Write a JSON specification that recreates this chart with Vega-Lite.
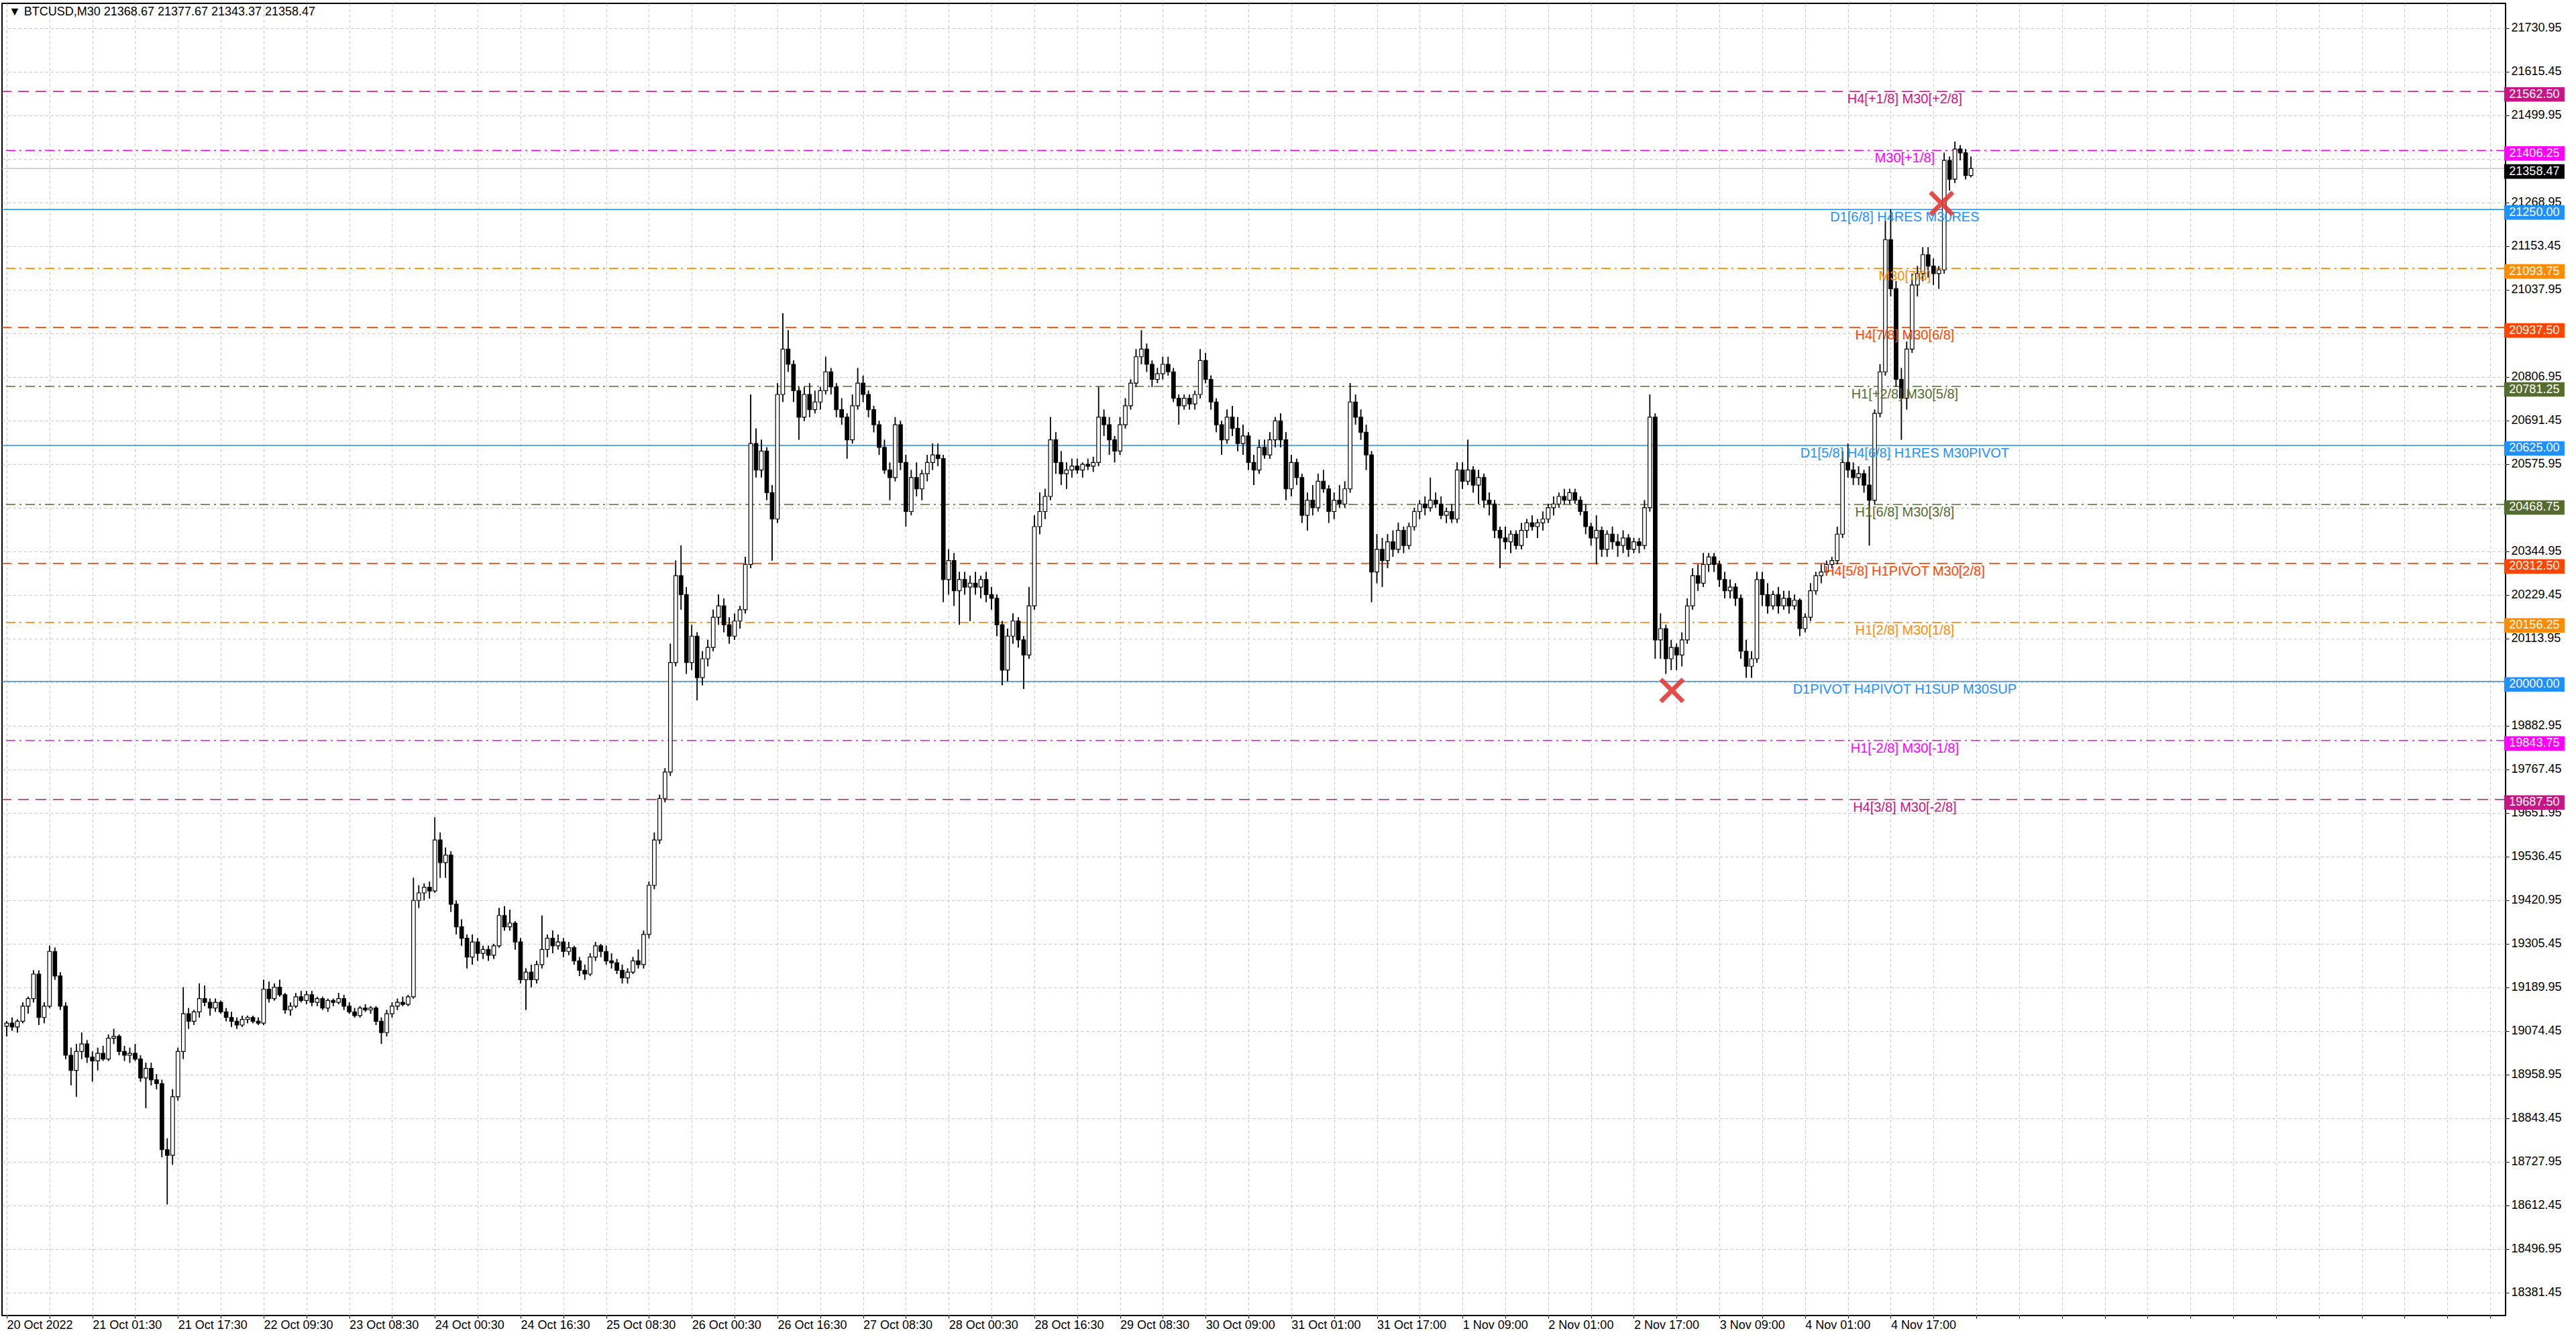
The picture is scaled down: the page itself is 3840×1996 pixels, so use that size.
{
"$schema": "https://vega.github.io/schema/vega-lite/v6.json",
"width": 3732, "height": 1956,
"autosize": "none",
"padding": {"left": 3, "top": 5, "right": 105, "bottom": 35},
"background": "white",
"config": {"view": {"stroke": "black", "strokeWidth": 2}, "font": "Liberation Sans"},
"datasets": {
"levels": [
{"v":21562.5,"k":"±2/8","t":"H4[+1/8] M30[+2/8]"},
{"v":21406.25,"k":"±1/8","t":"M30[+1/8]"},
{"v":21250,"k":"pivot","t":"D1[6/8] H4RES M30RES"},
{"v":21093.75,"k":"1/8","t":"M30[7/8]"},
{"v":20937.5,"k":"2/8","t":"H4[7/8] M30[6/8]"},
{"v":20781.25,"k":"3/8","t":"H1[+2/8] M30[5/8]"},
{"v":20625,"k":"pivot","t":"D1[5/8] H4[6/8] H1RES M30PIVOT"},
{"v":20468.75,"k":"3/8","t":"H1[6/8] M30[3/8]"},
{"v":20312.5,"k":"2/8","t":"H4[5/8] H1PIVOT M30[2/8]"},
{"v":20156.25,"k":"1/8","t":"H1[2/8] M30[1/8]"},
{"v":20000,"k":"pivot","t":"D1PIVOT H4PIVOT H1SUP M30SUP"},
{"v":19843.75,"k":"±1/8","t":"H1[-2/8] M30[-1/8]"},
{"v":19687.5,"k":"±2/8","t":"H4[3/8] M30[-2/8]"}
],
"price": [{"v":21358.47}],
"marks": [{"i":622.25,"v":19976},{"i":723,"v":21266}],
"header": [{"t":"▼  BTCUSD,M30  21368.67 21377.67 21343.37 21358.47"}],
"candles": [
{"i":0,"o":19087,"h":19100,"l":19060,"c":19095},
{"i":2,"o":19095,"h":19110,"l":19075,"c":19085},
{"i":4,"o":19085,"h":19105,"l":19070,"c":19100},
{"i":6,"o":19100,"h":19150,"l":19095,"c":19140},
{"i":8,"o":19140,"h":19165,"l":19120,"c":19160},
{"i":10,"o":19160,"h":19235,"l":19150,"c":19225},
{"i":12,"o":19225,"h":19235,"l":19090,"c":19110},
{"i":14,"o":19110,"h":19150,"l":19095,"c":19140},
{"i":16,"o":19140,"h":19300,"l":19135,"c":19285},
{"i":18,"o":19285,"h":19295,"l":19210,"c":19220},
{"i":20,"o":19220,"h":19230,"l":19130,"c":19140},
{"i":22,"o":19140,"h":19150,"l":19000,"c":19010},
{"i":24,"o":19010,"h":19030,"l":18930,"c":18970},
{"i":26,"o":18970,"h":19040,"l":18900,"c":19020},
{"i":28,"o":19020,"h":19070,"l":19000,"c":19040},
{"i":30,"o":19040,"h":19050,"l":18990,"c":19005},
{"i":32,"o":19005,"h":19020,"l":18940,"c":18995},
{"i":34,"o":18995,"h":19030,"l":18970,"c":19015},
{"i":36,"o":19015,"h":19035,"l":18995,"c":19000},
{"i":38,"o":19000,"h":19065,"l":18995,"c":19055},
{"i":40,"o":19055,"h":19080,"l":19040,"c":19060},
{"i":42,"o":19060,"h":19065,"l":19010,"c":19020},
{"i":44,"o":19020,"h":19035,"l":18995,"c":19010},
{"i":46,"o":19010,"h":19030,"l":18990,"c":19015},
{"i":48,"o":19015,"h":19040,"l":18995,"c":19000},
{"i":50,"o":19000,"h":19010,"l":18940,"c":18950},
{"i":52,"o":18950,"h":18990,"l":18870,"c":18975},
{"i":54,"o":18975,"h":18990,"l":18930,"c":18945},
{"i":56,"o":18945,"h":18960,"l":18920,"c":18935},
{"i":58,"o":18935,"h":18945,"l":18740,"c":18760},
{"i":60,"o":18760,"h":18790,"l":18615,"c":18745},
{"i":62,"o":18745,"h":18920,"l":18720,"c":18900},
{"i":64,"o":18900,"h":19030,"l":18890,"c":19020},
{"i":66,"o":19020,"h":19190,"l":19000,"c":19120},
{"i":68,"o":19120,"h":19135,"l":19080,"c":19100},
{"i":70,"o":19100,"h":19130,"l":19090,"c":19125},
{"i":72,"o":19125,"h":19200,"l":19110,"c":19160},
{"i":74,"o":19160,"h":19195,"l":19140,"c":19150},
{"i":76,"o":19150,"h":19160,"l":19115,"c":19135},
{"i":78,"o":19135,"h":19160,"l":19125,"c":19150},
{"i":80,"o":19150,"h":19155,"l":19120,"c":19125},
{"i":82,"o":19125,"h":19135,"l":19100,"c":19110},
{"i":84,"o":19110,"h":19125,"l":19085,"c":19100},
{"i":86,"o":19100,"h":19110,"l":19080,"c":19090},
{"i":88,"o":19090,"h":19115,"l":19085,"c":19105},
{"i":90,"o":19105,"h":19115,"l":19095,"c":19110},
{"i":92,"o":19110,"h":19115,"l":19095,"c":19100},
{"i":94,"o":19100,"h":19110,"l":19090,"c":19095},
{"i":96,"o":19095,"h":19210,"l":19090,"c":19185},
{"i":98,"o":19185,"h":19205,"l":19150,"c":19160},
{"i":100,"o":19160,"h":19200,"l":19155,"c":19190},
{"i":102,"o":19190,"h":19210,"l":19165,"c":19170},
{"i":104,"o":19170,"h":19175,"l":19120,"c":19130},
{"i":106,"o":19130,"h":19150,"l":19115,"c":19140},
{"i":108,"o":19140,"h":19175,"l":19135,"c":19165},
{"i":110,"o":19165,"h":19180,"l":19150,"c":19155},
{"i":112,"o":19155,"h":19180,"l":19145,"c":19170},
{"i":114,"o":19170,"h":19180,"l":19140,"c":19150},
{"i":116,"o":19150,"h":19165,"l":19140,"c":19160},
{"i":118,"o":19160,"h":19165,"l":19130,"c":19135},
{"i":120,"o":19135,"h":19160,"l":19125,"c":19155},
{"i":122,"o":19155,"h":19160,"l":19140,"c":19150},
{"i":124,"o":19150,"h":19175,"l":19145,"c":19160},
{"i":126,"o":19160,"h":19170,"l":19130,"c":19140},
{"i":128,"o":19140,"h":19150,"l":19120,"c":19125},
{"i":130,"o":19125,"h":19135,"l":19110,"c":19115},
{"i":132,"o":19115,"h":19140,"l":19110,"c":19135},
{"i":134,"o":19135,"h":19145,"l":19125,"c":19130},
{"i":136,"o":19130,"h":19140,"l":19120,"c":19135},
{"i":138,"o":19135,"h":19140,"l":19090,"c":19100},
{"i":140,"o":19100,"h":19110,"l":19040,"c":19070},
{"i":142,"o":19070,"h":19130,"l":19060,"c":19120},
{"i":144,"o":19120,"h":19150,"l":19110,"c":19140},
{"i":146,"o":19140,"h":19160,"l":19130,"c":19150},
{"i":148,"o":19150,"h":19165,"l":19140,"c":19145},
{"i":150,"o":19145,"h":19170,"l":19140,"c":19165},
{"i":152,"o":19165,"h":19480,"l":19160,"c":19420},
{"i":154,"o":19420,"h":19460,"l":19400,"c":19440},
{"i":156,"o":19440,"h":19465,"l":19420,"c":19455},
{"i":158,"o":19455,"h":19470,"l":19425,"c":19445},
{"i":160,"o":19445,"h":19640,"l":19440,"c":19580},
{"i":162,"o":19580,"h":19600,"l":19480,"c":19520},
{"i":164,"o":19520,"h":19560,"l":19480,"c":19540},
{"i":166,"o":19540,"h":19550,"l":19390,"c":19410},
{"i":168,"o":19410,"h":19420,"l":19330,"c":19350},
{"i":170,"o":19350,"h":19370,"l":19300,"c":19320},
{"i":172,"o":19320,"h":19330,"l":19240,"c":19270},
{"i":174,"o":19270,"h":19330,"l":19250,"c":19310},
{"i":176,"o":19310,"h":19320,"l":19260,"c":19280},
{"i":178,"o":19280,"h":19300,"l":19265,"c":19290},
{"i":180,"o":19290,"h":19300,"l":19260,"c":19275},
{"i":182,"o":19275,"h":19305,"l":19265,"c":19300},
{"i":184,"o":19300,"h":19400,"l":19295,"c":19380},
{"i":186,"o":19380,"h":19405,"l":19340,"c":19350},
{"i":188,"o":19350,"h":19395,"l":19340,"c":19360},
{"i":190,"o":19360,"h":19365,"l":19290,"c":19310},
{"i":192,"o":19310,"h":19320,"l":19200,"c":19210},
{"i":194,"o":19210,"h":19240,"l":19130,"c":19230},
{"i":196,"o":19230,"h":19250,"l":19190,"c":19210},
{"i":198,"o":19210,"h":19260,"l":19200,"c":19250},
{"i":200,"o":19250,"h":19380,"l":19240,"c":19290},
{"i":202,"o":19290,"h":19330,"l":19270,"c":19320},
{"i":204,"o":19320,"h":19340,"l":19280,"c":19300},
{"i":206,"o":19300,"h":19330,"l":19290,"c":19310},
{"i":208,"o":19310,"h":19320,"l":19270,"c":19285},
{"i":210,"o":19285,"h":19310,"l":19275,"c":19295},
{"i":212,"o":19295,"h":19300,"l":19250,"c":19260},
{"i":214,"o":19260,"h":19270,"l":19220,"c":19235},
{"i":216,"o":19235,"h":19250,"l":19210,"c":19225},
{"i":218,"o":19225,"h":19280,"l":19220,"c":19270},
{"i":220,"o":19270,"h":19310,"l":19260,"c":19300},
{"i":222,"o":19300,"h":19305,"l":19270,"c":19285},
{"i":224,"o":19285,"h":19300,"l":19250,"c":19260},
{"i":226,"o":19260,"h":19280,"l":19240,"c":19255},
{"i":228,"o":19255,"h":19265,"l":19225,"c":19235},
{"i":230,"o":19235,"h":19250,"l":19200,"c":19215},
{"i":232,"o":19215,"h":19240,"l":19200,"c":19230},
{"i":234,"o":19230,"h":19270,"l":19225,"c":19260},
{"i":236,"o":19260,"h":19290,"l":19240,"c":19250},
{"i":238,"o":19250,"h":19340,"l":19240,"c":19330},
{"i":240,"o":19330,"h":19470,"l":19320,"c":19460},
{"i":242,"o":19460,"h":19600,"l":19450,"c":19580},
{"i":244,"o":19580,"h":19700,"l":19570,"c":19690},
{"i":246,"o":19690,"h":19770,"l":19680,"c":19760},
{"i":248,"o":19760,"h":20100,"l":19750,"c":20050},
{"i":250,"o":20050,"h":20320,"l":20040,"c":20280},
{"i":252,"o":20280,"h":20360,"l":20190,"c":20230},
{"i":254,"o":20230,"h":20250,"l":20020,"c":20050},
{"i":256,"o":20050,"h":20150,"l":20030,"c":20120},
{"i":258,"o":20120,"h":20130,"l":19950,"c":20010},
{"i":260,"o":20010,"h":20080,"l":19990,"c":20060},
{"i":262,"o":20060,"h":20110,"l":20040,"c":20090},
{"i":264,"o":20090,"h":20190,"l":20080,"c":20170},
{"i":266,"o":20170,"h":20230,"l":20150,"c":20200},
{"i":268,"o":20200,"h":20220,"l":20130,"c":20150},
{"i":270,"o":20150,"h":20170,"l":20100,"c":20120},
{"i":272,"o":20120,"h":20180,"l":20110,"c":20160},
{"i":274,"o":20160,"h":20200,"l":20140,"c":20190},
{"i":276,"o":20190,"h":20330,"l":20180,"c":20310},
{"i":278,"o":20310,"h":20760,"l":20300,"c":20630},
{"i":280,"o":20630,"h":20670,"l":20540,"c":20560},
{"i":282,"o":20560,"h":20640,"l":20540,"c":20610},
{"i":284,"o":20610,"h":20620,"l":20480,"c":20500},
{"i":286,"o":20500,"h":20520,"l":20320,"c":20430},
{"i":288,"o":20430,"h":20790,"l":20420,"c":20760},
{"i":290,"o":20760,"h":20975,"l":20740,"c":20880},
{"i":292,"o":20880,"h":20930,"l":20820,"c":20840},
{"i":294,"o":20840,"h":20850,"l":20740,"c":20770},
{"i":296,"o":20770,"h":20780,"l":20640,"c":20700},
{"i":298,"o":20700,"h":20780,"l":20690,"c":20760},
{"i":300,"o":20760,"h":20790,"l":20700,"c":20720},
{"i":302,"o":20720,"h":20770,"l":20710,"c":20740},
{"i":304,"o":20740,"h":20780,"l":20720,"c":20770},
{"i":306,"o":20770,"h":20860,"l":20760,"c":20820},
{"i":308,"o":20820,"h":20830,"l":20760,"c":20780},
{"i":310,"o":20780,"h":20790,"l":20700,"c":20720},
{"i":312,"o":20720,"h":20750,"l":20680,"c":20700},
{"i":314,"o":20700,"h":20710,"l":20590,"c":20640},
{"i":316,"o":20640,"h":20760,"l":20630,"c":20730},
{"i":318,"o":20730,"h":20830,"l":20720,"c":20790},
{"i":320,"o":20790,"h":20810,"l":20740,"c":20760},
{"i":322,"o":20760,"h":20770,"l":20700,"c":20720},
{"i":324,"o":20720,"h":20730,"l":20660,"c":20680},
{"i":326,"o":20680,"h":20690,"l":20600,"c":20620},
{"i":328,"o":20620,"h":20640,"l":20550,"c":20560},
{"i":330,"o":20560,"h":20580,"l":20480,"c":20540},
{"i":332,"o":20540,"h":20700,"l":20530,"c":20680},
{"i":334,"o":20680,"h":20690,"l":20560,"c":20580},
{"i":336,"o":20580,"h":20600,"l":20410,"c":20450},
{"i":338,"o":20450,"h":20560,"l":20440,"c":20540},
{"i":340,"o":20540,"h":20580,"l":20490,"c":20510},
{"i":342,"o":20510,"h":20560,"l":20480,"c":20550},
{"i":344,"o":20550,"h":20600,"l":20530,"c":20580},
{"i":346,"o":20580,"h":20630,"l":20560,"c":20600},
{"i":348,"o":20600,"h":20630,"l":20570,"c":20590},
{"i":350,"o":20590,"h":20600,"l":20210,"c":20270},
{"i":352,"o":20270,"h":20350,"l":20230,"c":20320},
{"i":354,"o":20320,"h":20340,"l":20200,"c":20240},
{"i":356,"o":20240,"h":20290,"l":20150,"c":20270},
{"i":358,"o":20270,"h":20290,"l":20230,"c":20250},
{"i":360,"o":20250,"h":20280,"l":20160,"c":20260},
{"i":362,"o":20260,"h":20290,"l":20230,"c":20250},
{"i":364,"o":20250,"h":20280,"l":20220,"c":20270},
{"i":366,"o":20270,"h":20290,"l":20210,"c":20230},
{"i":368,"o":20230,"h":20250,"l":20190,"c":20220},
{"i":370,"o":20220,"h":20230,"l":20120,"c":20150},
{"i":372,"o":20150,"h":20160,"l":19990,"c":20030},
{"i":374,"o":20030,"h":20140,"l":20000,"c":20120},
{"i":376,"o":20120,"h":20180,"l":20100,"c":20160},
{"i":378,"o":20160,"h":20170,"l":20090,"c":20110},
{"i":380,"o":20110,"h":20120,"l":19980,"c":20070},
{"i":382,"o":20070,"h":20250,"l":20060,"c":20200},
{"i":384,"o":20200,"h":20440,"l":20190,"c":20410},
{"i":386,"o":20410,"h":20500,"l":20390,"c":20450},
{"i":388,"o":20450,"h":20510,"l":20430,"c":20490},
{"i":390,"o":20490,"h":20700,"l":20480,"c":20640},
{"i":392,"o":20640,"h":20660,"l":20550,"c":20580},
{"i":394,"o":20580,"h":20610,"l":20520,"c":20550},
{"i":396,"o":20550,"h":20580,"l":20510,"c":20560},
{"i":398,"o":20560,"h":20590,"l":20540,"c":20570},
{"i":400,"o":20570,"h":20590,"l":20550,"c":20560},
{"i":402,"o":20560,"h":20580,"l":20540,"c":20575},
{"i":404,"o":20575,"h":20590,"l":20560,"c":20570},
{"i":406,"o":20570,"h":20595,"l":20555,"c":20580},
{"i":408,"o":20580,"h":20780,"l":20570,"c":20700},
{"i":410,"o":20700,"h":20720,"l":20650,"c":20680},
{"i":412,"o":20680,"h":20700,"l":20600,"c":20640},
{"i":414,"o":20640,"h":20650,"l":20580,"c":20610},
{"i":416,"o":20610,"h":20700,"l":20600,"c":20680},
{"i":418,"o":20680,"h":20750,"l":20670,"c":20730},
{"i":420,"o":20730,"h":20800,"l":20720,"c":20790},
{"i":422,"o":20790,"h":20880,"l":20780,"c":20860},
{"i":424,"o":20860,"h":20930,"l":20840,"c":20880},
{"i":426,"o":20880,"h":20895,"l":20820,"c":20840},
{"i":428,"o":20840,"h":20850,"l":20780,"c":20800},
{"i":430,"o":20800,"h":20830,"l":20790,"c":20815},
{"i":432,"o":20815,"h":20860,"l":20800,"c":20840},
{"i":434,"o":20840,"h":20860,"l":20810,"c":20820},
{"i":436,"o":20820,"h":20830,"l":20740,"c":20750},
{"i":438,"o":20750,"h":20760,"l":20680,"c":20730},
{"i":440,"o":20730,"h":20760,"l":20720,"c":20750},
{"i":442,"o":20750,"h":20760,"l":20720,"c":20735},
{"i":444,"o":20735,"h":20770,"l":20720,"c":20760},
{"i":446,"o":20760,"h":20880,"l":20750,"c":20850},
{"i":448,"o":20850,"h":20870,"l":20790,"c":20800},
{"i":450,"o":20800,"h":20810,"l":20720,"c":20740},
{"i":452,"o":20740,"h":20750,"l":20660,"c":20680},
{"i":454,"o":20680,"h":20690,"l":20600,"c":20640},
{"i":456,"o":20640,"h":20720,"l":20630,"c":20700},
{"i":458,"o":20700,"h":20730,"l":20650,"c":20670},
{"i":460,"o":20670,"h":20700,"l":20610,"c":20630},
{"i":462,"o":20630,"h":20680,"l":20600,"c":20650},
{"i":464,"o":20650,"h":20660,"l":20560,"c":20580},
{"i":466,"o":20580,"h":20600,"l":20520,"c":20560},
{"i":468,"o":20560,"h":20640,"l":20550,"c":20620},
{"i":470,"o":20620,"h":20640,"l":20590,"c":20600},
{"i":472,"o":20600,"h":20660,"l":20590,"c":20640},
{"i":474,"o":20640,"h":20700,"l":20620,"c":20690},
{"i":476,"o":20690,"h":20710,"l":20620,"c":20640},
{"i":478,"o":20640,"h":20660,"l":20480,"c":20510},
{"i":480,"o":20510,"h":20600,"l":20490,"c":20580},
{"i":482,"o":20580,"h":20590,"l":20520,"c":20540},
{"i":484,"o":20540,"h":20550,"l":20420,"c":20440},
{"i":486,"o":20440,"h":20500,"l":20400,"c":20480},
{"i":488,"o":20480,"h":20520,"l":20440,"c":20460},
{"i":490,"o":20460,"h":20550,"l":20450,"c":20530},
{"i":492,"o":20530,"h":20560,"l":20500,"c":20510},
{"i":494,"o":20510,"h":20520,"l":20420,"c":20450},
{"i":496,"o":20450,"h":20500,"l":20430,"c":20480},
{"i":498,"o":20480,"h":20520,"l":20460,"c":20470},
{"i":500,"o":20470,"h":20530,"l":20460,"c":20510},
{"i":502,"o":20510,"h":20790,"l":20500,"c":20740},
{"i":504,"o":20740,"h":20760,"l":20680,"c":20700},
{"i":506,"o":20700,"h":20720,"l":20640,"c":20660},
{"i":508,"o":20660,"h":20680,"l":20560,"c":20600},
{"i":510,"o":20600,"h":20610,"l":20210,"c":20290},
{"i":512,"o":20290,"h":20390,"l":20260,"c":20350},
{"i":514,"o":20350,"h":20380,"l":20250,"c":20320},
{"i":516,"o":20320,"h":20390,"l":20300,"c":20370},
{"i":518,"o":20370,"h":20400,"l":20330,"c":20350},
{"i":520,"o":20350,"h":20420,"l":20340,"c":20400},
{"i":522,"o":20400,"h":20410,"l":20340,"c":20360},
{"i":524,"o":20360,"h":20420,"l":20350,"c":20410},
{"i":526,"o":20410,"h":20460,"l":20400,"c":20450},
{"i":528,"o":20450,"h":20480,"l":20430,"c":20470},
{"i":530,"o":20470,"h":20490,"l":20440,"c":20460},
{"i":532,"o":20460,"h":20540,"l":20450,"c":20480},
{"i":534,"o":20480,"h":20500,"l":20460,"c":20470},
{"i":536,"o":20470,"h":20490,"l":20430,"c":20440},
{"i":538,"o":20440,"h":20460,"l":20420,"c":20450},
{"i":540,"o":20450,"h":20470,"l":20420,"c":20430},
{"i":542,"o":20430,"h":20580,"l":20420,"c":20560},
{"i":544,"o":20560,"h":20580,"l":20510,"c":20530},
{"i":546,"o":20530,"h":20640,"l":20520,"c":20560},
{"i":548,"o":20560,"h":20570,"l":20500,"c":20520},
{"i":550,"o":20520,"h":20560,"l":20470,"c":20540},
{"i":552,"o":20540,"h":20550,"l":20460,"c":20480},
{"i":554,"o":20480,"h":20500,"l":20440,"c":20470},
{"i":556,"o":20470,"h":20480,"l":20380,"c":20400},
{"i":558,"o":20400,"h":20410,"l":20300,"c":20380},
{"i":560,"o":20380,"h":20410,"l":20350,"c":20370},
{"i":562,"o":20370,"h":20400,"l":20340,"c":20390},
{"i":564,"o":20390,"h":20400,"l":20350,"c":20360},
{"i":566,"o":20360,"h":20420,"l":20350,"c":20400},
{"i":568,"o":20400,"h":20430,"l":20380,"c":20420},
{"i":570,"o":20420,"h":20440,"l":20400,"c":20410},
{"i":572,"o":20410,"h":20430,"l":20380,"c":20420},
{"i":574,"o":20420,"h":20450,"l":20400,"c":20430},
{"i":576,"o":20430,"h":20470,"l":20420,"c":20460},
{"i":578,"o":20460,"h":20490,"l":20440,"c":20470},
{"i":580,"o":20470,"h":20500,"l":20460,"c":20490},
{"i":582,"o":20490,"h":20510,"l":20470,"c":20480},
{"i":584,"o":20480,"h":20510,"l":20470,"c":20500},
{"i":586,"o":20500,"h":20510,"l":20470,"c":20480},
{"i":588,"o":20480,"h":20490,"l":20440,"c":20450},
{"i":590,"o":20450,"h":20470,"l":20390,"c":20410},
{"i":592,"o":20410,"h":20420,"l":20360,"c":20380},
{"i":594,"o":20380,"h":20440,"l":20310,"c":20400},
{"i":596,"o":20400,"h":20410,"l":20330,"c":20350},
{"i":598,"o":20350,"h":20400,"l":20330,"c":20390},
{"i":600,"o":20390,"h":20410,"l":20350,"c":20370},
{"i":602,"o":20370,"h":20390,"l":20330,"c":20360},
{"i":604,"o":20360,"h":20400,"l":20340,"c":20380},
{"i":606,"o":20380,"h":20390,"l":20330,"c":20350},
{"i":608,"o":20350,"h":20380,"l":20340,"c":20370},
{"i":610,"o":20370,"h":20380,"l":20340,"c":20360},
{"i":612,"o":20360,"h":20480,"l":20350,"c":20460},
{"i":614,"o":20460,"h":20760,"l":20450,"c":20700},
{"i":616,"o":20700,"h":20710,"l":20060,"c":20110},
{"i":618,"o":20110,"h":20180,"l":20060,"c":20140},
{"i":620,"o":20140,"h":20150,"l":20020,"c":20060},
{"i":622,"o":20060,"h":20110,"l":20030,"c":20090},
{"i":624,"o":20090,"h":20100,"l":20030,"c":20070},
{"i":626,"o":20070,"h":20130,"l":20040,"c":20110},
{"i":628,"o":20110,"h":20220,"l":20100,"c":20200},
{"i":630,"o":20200,"h":20300,"l":20190,"c":20280},
{"i":632,"o":20280,"h":20310,"l":20240,"c":20260},
{"i":634,"o":20260,"h":20340,"l":20250,"c":20310},
{"i":636,"o":20310,"h":20340,"l":20290,"c":20330},
{"i":638,"o":20330,"h":20340,"l":20290,"c":20310},
{"i":640,"o":20310,"h":20320,"l":20250,"c":20270},
{"i":642,"o":20270,"h":20290,"l":20220,"c":20240},
{"i":644,"o":20240,"h":20270,"l":20220,"c":20250},
{"i":646,"o":20250,"h":20260,"l":20200,"c":20220},
{"i":648,"o":20220,"h":20230,"l":20060,"c":20080},
{"i":650,"o":20080,"h":20110,"l":20010,"c":20040},
{"i":652,"o":20040,"h":20080,"l":20010,"c":20060},
{"i":654,"o":20060,"h":20290,"l":20050,"c":20270},
{"i":656,"o":20270,"h":20290,"l":20200,"c":20230},
{"i":658,"o":20230,"h":20260,"l":20180,"c":20200},
{"i":660,"o":20200,"h":20240,"l":20190,"c":20230},
{"i":662,"o":20230,"h":20250,"l":20180,"c":20200},
{"i":664,"o":20200,"h":20240,"l":20190,"c":20220},
{"i":666,"o":20220,"h":20240,"l":20180,"c":20200},
{"i":668,"o":20200,"h":20230,"l":20190,"c":20215},
{"i":670,"o":20215,"h":20220,"l":20120,"c":20140},
{"i":672,"o":20140,"h":20180,"l":20130,"c":20170},
{"i":674,"o":20170,"h":20260,"l":20160,"c":20240},
{"i":676,"o":20240,"h":20290,"l":20230,"c":20280},
{"i":678,"o":20280,"h":20310,"l":20260,"c":20290},
{"i":680,"o":20290,"h":20320,"l":20280,"c":20310},
{"i":682,"o":20310,"h":20330,"l":20300,"c":20320},
{"i":684,"o":20320,"h":20410,"l":20310,"c":20390},
{"i":686,"o":20390,"h":20610,"l":20380,"c":20580},
{"i":688,"o":20580,"h":20630,"l":20540,"c":20560},
{"i":690,"o":20560,"h":20580,"l":20520,"c":20540},
{"i":692,"o":20540,"h":20570,"l":20520,"c":20550},
{"i":694,"o":20550,"h":20560,"l":20500,"c":20520},
{"i":696,"o":20520,"h":20570,"l":20360,"c":20480},
{"i":698,"o":20480,"h":20720,"l":20470,"c":20710},
{"i":700,"o":20710,"h":20840,"l":20700,"c":20820},
{"i":702,"o":20820,"h":21220,"l":20810,"c":21170},
{"i":704,"o":21170,"h":21250,"l":21020,"c":21040},
{"i":706,"o":21040,"h":21060,"l":20780,"c":20800},
{"i":708,"o":20800,"h":20830,"l":20640,"c":20750},
{"i":710,"o":20750,"h":20900,"l":20720,"c":20880},
{"i":712,"o":20880,"h":21080,"l":20870,"c":21050},
{"i":714,"o":21050,"h":21100,"l":21020,"c":21080},
{"i":716,"o":21080,"h":21150,"l":21060,"c":21130},
{"i":718,"o":21130,"h":21150,"l":21070,"c":21100},
{"i":720,"o":21100,"h":21120,"l":21050,"c":21080},
{"i":722,"o":21080,"h":21100,"l":21040,"c":21090},
{"i":724,"o":21090,"h":21400,"l":21080,"c":21380},
{"i":726,"o":21380,"h":21390,"l":21300,"c":21330},
{"i":728,"o":21330,"h":21430,"l":21320,"c":21410},
{"i":730,"o":21410,"h":21420,"l":21380,"c":21400},
{"i":732,"o":21400,"h":21410,"l":21330,"c":21340},
{"i":734,"o":21340,"h":21390,"l":21335,"c":21358.47}
]
},
"layer": [
{
"data": {"name": "candles"},
"mark": {"type": "rule", "strokeWidth": 1.5, "color": "black"},
"encoding": {
"x": {"field": "i", "type": "quantitative", "scale": {"domain": [-0.5, 932.5], "nice": false, "zero": false},
"axis": {"orient": "bottom", "title": null, "values": [0,16,32,48,64,80,96,112,128,144,160,176,192,208,224,240,256,272,288,304,320,336,352,368,384,400,416,432,448,464,480,496,512,528,544,560,576,592,608,624,640,656,672,688,704,720,736,752,768,784,800,816,832,848,864,880,896,912,928],
"labelExpr": "datum.value % 32 == 0 && datum.value <= 704 ? ['20 Oct 2022','21 Oct 01:30','21 Oct 17:30','22 Oct 09:30','23 Oct 08:30','24 Oct 00:30','24 Oct 16:30','25 Oct 08:30','26 Oct 00:30','26 Oct 16:30','27 Oct 08:30','28 Oct 00:30','28 Oct 16:30','29 Oct 08:30','30 Oct 09:00','31 Oct 01:00','31 Oct 17:00','1 Nov 09:00','2 Nov 01:00','2 Nov 17:00','3 Nov 09:00','4 Nov 01:00','4 Nov 17:00'][datum.value / 32] : ''",
"grid": true, "gridColor": "#C4C4C4", "gridDash": [4,4], "gridWidth": 1,
"domain": false, "ticks": true, "tickColor": "black", "tickSize": 4,
"labelAlign": "left", "labelBaseline": "top", "labelPadding": 1, "labelFont": "Liberation Sans", "labelFontSize": 18, "labelColor": "black",
"labelOverlap": false, "labelFlush": false, "labelBound": false}},
"y": {"field": "l", "type": "quantitative", "scale": {"domain": [18320.7, 21795.8], "nice": false, "zero": false},
"axis": {"orient": "right", "title": null, "values": [18381.45,18496.95,18612.45,18727.95,18843.45,18958.95,19074.45,19189.95,19305.45,19420.95,19536.45,19651.95,19767.45,19882.95,19998.45,20113.95,20229.45,20344.95,20460.45,20575.95,20691.45,20806.95,20922.45,21037.95,21153.45,21268.95,21384.45,21499.95,21615.45,21730.95],
"labelExpr": "indexof([19998.45,20460.45,20922.45,21384.45], datum.value) >= 0 ? '' : format(datum.value, '.2f')",
"grid": true, "gridColor": "#C4C4C4", "gridDash": [4,4], "gridWidth": 1,
"domain": false, "tickColor": "black", "tickSize": 5,
"labelFont": "Liberation Sans", "labelFontSize": 18, "labelColor": "black", "labelPadding": 3,
"labelOverlap": false, "labelFlush": false, "labelBound": false}},
"y2": {"field": "h"}
}
},
{
"data": {"name": "levels"},
"mark": {"type": "rule", "strokeWidth": 1.6},
"encoding": {
"y": {"field": "v", "type": "quantitative", "title": null},
"color": {"field": "k", "type": "nominal", "legend": null,
"scale": {"domain": ["±2/8","±1/8","pivot","1/8","2/8","3/8"], "range": ["#C71585","#FF00FF","#1E90FF","#FF8C00","#FF4500","#556B2F"]}},
"strokeDash": {"field": "k", "type": "nominal", "legend": null,
"scale": {"domain": ["±2/8","±1/8","pivot","1/8","2/8","3/8"], "range": [[16,10],[14,6,3,6],[1,0],[14,6,3,6],[16,10],[14,6,3,6]]}}
}
},
{
"data": {"name": "price"},
"mark": {"type": "rule", "strokeWidth": 1.4, "color": "#BDBDBD"},
"encoding": {"y": {"field": "v", "type": "quantitative", "title": null}}
},
{
"data": {"name": "candles"},
"mark": {"type": "rule", "strokeWidth": 1.5, "color": "black"},
"encoding": {
"x": {"field": "i", "type": "quantitative", "title": null},
"y": {"field": "l", "type": "quantitative", "title": null},
"y2": {"field": "h"}
}
},
{
"data": {"name": "candles"},
"mark": {"type": "bar", "size": 5.5, "stroke": "black", "strokeWidth": 1.2},
"encoding": {
"x": {"field": "i", "type": "quantitative", "title": null},
"y": {"field": "o", "type": "quantitative", "title": null},
"y2": {"field": "c"},
"color": {"condition": {"test": "datum.o > datum.c", "value": "black"}, "value": "white"}
}
},
{
"data": {"name": "levels"},
"mark": {"type": "text", "font": "Liberation Sans", "fontSize": 20, "align": "center", "baseline": "middle", "dy": 12},
"encoding": {
"x": {"datum": 709.25, "type": "quantitative", "title": null},
"y": {"field": "v", "type": "quantitative", "title": null},
"text": {"field": "t"},
"color": {"field": "k", "type": "nominal", "legend": null}
}
},
{
"data": {"name": "marks"},
"mark": {"type": "point", "shape": "M-1,-0.75L-0.75,-1L0,-0.25L0.75,-1L1,-0.75L0.25,0L1,0.75L0.75,1L0,0.25L-0.75,1L-1,0.75L-0.25,0Z", "filled": true, "size": 1444, "opacity": 0.9, "color": "#E53935", "strokeWidth": 0},
"encoding": {
"x": {"field": "i", "type": "quantitative", "title": null},
"y": {"field": "v", "type": "quantitative", "title": null}
}
},
{
"data": {"name": "levels"},
"mark": {"type": "point", "shape": "M-1,-0.24L1,-0.24L1,0.24L-1,0.24Z", "filled": true, "size": 8100, "opacity": 1, "strokeWidth": 0, "yOffset": 4.5, "clip": false},
"encoding": {
"x": {"datum": 944.5, "type": "quantitative", "title": null},
"y": {"field": "v", "type": "quantitative", "title": null},
"color": {"field": "k", "type": "nominal", "legend": null}
}
},
{
"data": {"name": "price"},
"mark": {"type": "point", "shape": "M-1,-0.24L1,-0.24L1,0.24L-1,0.24Z", "filled": true, "size": 8100, "opacity": 1, "strokeWidth": 0, "yOffset": 4.5, "color": "black", "clip": false},
"encoding": {
"x": {"datum": 944.5, "type": "quantitative", "title": null},
"y": {"field": "v", "type": "quantitative", "title": null}
}
},
{
"data": {"name": "levels"},
"mark": {"type": "text", "font": "Liberation Sans", "fontSize": 18, "align": "center", "baseline": "middle", "yOffset": 4.5, "color": "white", "clip": false},
"encoding": {
"x": {"datum": 944.5, "type": "quantitative", "title": null},
"y": {"field": "v", "type": "quantitative", "title": null},
"text": {"field": "v", "type": "quantitative", "format": ".2f"}
}
},
{
"data": {"name": "price"},
"mark": {"type": "text", "font": "Liberation Sans", "fontSize": 18, "align": "center", "baseline": "middle", "yOffset": 4.5, "color": "white", "clip": false},
"encoding": {
"x": {"datum": 944.5, "type": "quantitative", "title": null},
"y": {"field": "v", "type": "quantitative", "title": null},
"text": {"field": "v", "type": "quantitative", "format": ".2f"}
}
},
{
"data": {"name": "header"},
"mark": {"type": "text", "font": "Liberation Sans", "fontSize": 18, "align": "left", "baseline": "middle", "color": "black"},
"encoding": {
"x": {"datum": 0.75, "type": "quantitative", "title": null},
"y": {"datum": 21772, "type": "quantitative", "title": null},
"text": {"field": "t"}
}
}
]
}
